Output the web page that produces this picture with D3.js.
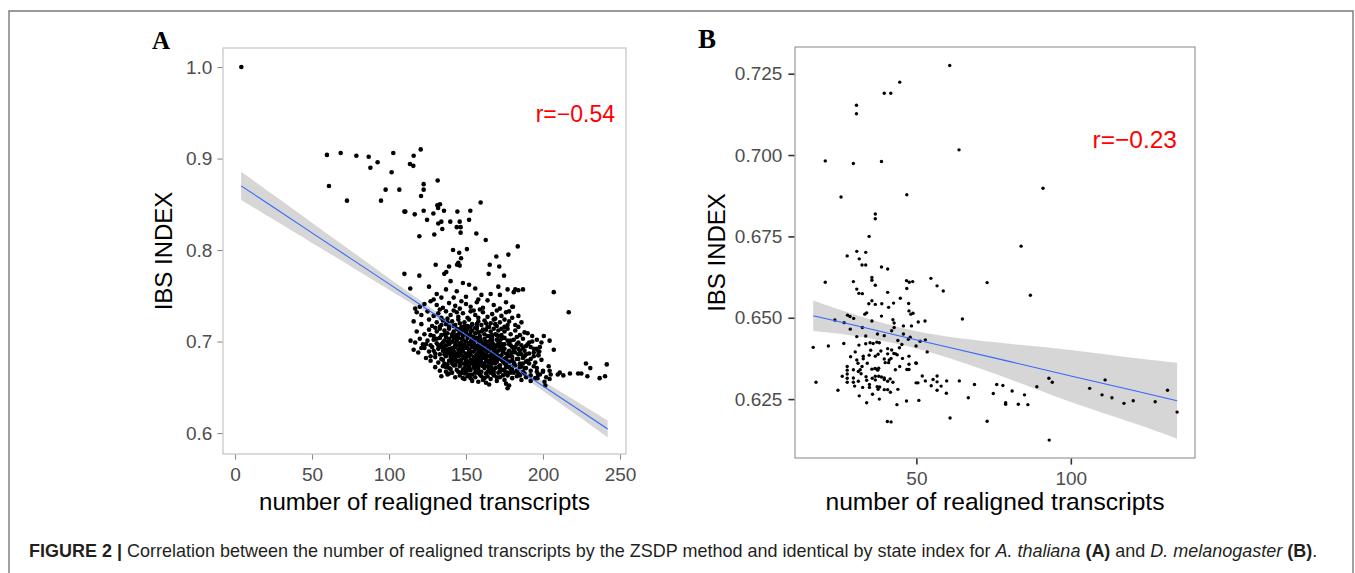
<!DOCTYPE html>
<html>
<head>
<meta charset="utf-8">
<script src="https://cdnjs.cloudflare.com/ajax/libs/d3/7.8.5/d3.min.js"></script>
<style>
  body { margin: 0; background: #fff; }
  svg { display: block; }
</style>
</head>
<body>
<svg id="figure" width="1355" height="573"></svg>
<script>
// ---- Panel A : A. thaliana (number of realigned transcripts vs IBS index) ----
const thalianaPoints = [
  [4.1,1.000],[59.7,0.904],[68.6,0.906],[78.8,0.903],[86.8,0.902],[87.9,0.890],[92.6,0.896],[101.7,0.885],
  [102.8,0.906],[113.6,0.894],[115.8,0.892],[116.0,0.903],[120.6,0.910],[61.0,0.870],[72.7,0.854],[94.8,0.854],
  [97.8,0.866],[106.7,0.866],[120.8,0.859],[122.5,0.872],[122.5,0.866],[131.6,0.876],[110.0,0.842],[110.6,0.842],
  [116.7,0.839],[122.5,0.843],[124.7,0.833],[128.8,0.840],[131.4,0.849],[133.1,0.850],[131.9,0.846],[135.7,0.843],
  [132.0,0.829],[134.0,0.831],[134.6,0.823],[139.8,0.831],[119.7,0.815],[129.4,0.817],[144.4,0.842],[144.0,0.825],
  [145.9,0.831],[146.5,0.825],[146.5,0.819],[152.8,0.843],[152.0,0.833],[159.5,0.852],[156.7,0.818],[162.8,0.811],
  [141.6,0.800],[145.6,0.797],[150.6,0.801],[169.7,0.793],[177.5,0.795],[183.6,0.804],[146.8,0.791],[130.3,0.784],
  [137.2,0.776],[139.0,0.782],[144.2,0.784],[145.9,0.783],[135.9,0.774],[145.0,0.786],[165.4,0.784],[171.6,0.782],
  [164.7,0.774],[174.7,0.772],[110.0,0.774],[119.7,0.772],[113.8,0.758],[207.0,0.754],[216.7,0.732],[200.5,0.706],
  [204.3,0.701],[207.0,0.691],[227.9,0.676],[230.7,0.671],[241.4,0.675],[240.3,0.662],[236.8,0.660],[224.9,0.665],
  [228.8,0.662],[222.8,0.665],[217.5,0.665],[213.2,0.663],[210.9,0.666],[209.6,0.664],[203.7,0.673],[204.3,0.668],
  [205.0,0.664],[202.1,0.661],[204.3,0.659],[201.0,0.656],[201.5,0.652],[200.0,0.668],[196.8,0.664],[196.4,0.660],
  [197.0,0.685],[197.6,0.689],[195.8,0.692],[181,0.754],[184,0.756],[187,0.757],[180.5,0.738],
  // cluster, top rows
  [140,0.766],[148,0.764],[152,0.762],[137,0.757],[144,0.755],[156,0.758],[160,0.751],[166,0.752],[172,0.751],
  [177,0.757],[182,0.757],[171,0.760],[126,0.760],[131,0.752],[129,0.746],[134,0.748],[142,0.748],[150,0.749],
  [158,0.746],[147,0.744],
  [123,0.741],[127,0.744],[131,0.740],[135,0.737],[139,0.742],[143,0.739],[146,0.736],[150,0.741],[153,0.738],
  [157,0.743],[161,0.737],[164,0.745],[168,0.740],[172,0.736],[176,0.743],[180,0.738],[117,0.736],[120,0.738],
  [133,0.735],[155,0.734],
  [118,0.732],[121,0.729],[125,0.733],[129,0.728],[132,0.731],[134,0.726],[137,0.733],[140,0.729],[142,0.734],
  [145,0.727],[148,0.731],[151,0.726],[153,0.733],[156,0.729],[158,0.726],[161,0.732],[164,0.727],[167,0.730],
  [170,0.734],[173,0.728],[176,0.732],[169,0.725],[184,0.728],[138,0.725],[144,0.732],[159,0.735],
  [116,0.722],[121,0.719],[126,0.724],[128,0.717],[131,0.721],[133,0.716],[135,0.723],[137,0.719],[139,0.716],
  [141,0.722],[143,0.718],[145,0.724],[147,0.716],[149,0.721],[151,0.717],[152,0.724],[154,0.719],[156,0.715],
  [158,0.722],[160,0.718],[162,0.723],[164,0.716],[166,0.720],[168,0.724],[170,0.717],[172,0.721],[175,0.716],
  [178,0.722],[182,0.718],[186,0.721],[146,0.720],[153,0.716],[163,0.720],[157,0.719],
  // cluster, dense rows
  [118,0.711],[123,0.708],[126,0.713],[129,0.706],[131,0.711],[133,0.714],[134,0.707],[136,0.712],[138,0.709],
  [139,0.714],[141,0.706],[142,0.711],[144,0.714],[145,0.708],[147,0.712],[148,0.706],[150,0.710],[151,0.714],
  [153,0.707],[154,0.712],[156,0.709],[157,0.714],[159,0.706],[160,0.711],[162,0.708],[163,0.713],[165,0.706],
  [166,0.711],[168,0.714],[169,0.708],[171,0.712],[173,0.707],[175,0.711],[177,0.714],[179,0.708],[182,0.712],
  [185,0.707],[188,0.710],[137,0.705],[149,0.713],[158,0.710],[167,0.707],
  [114,0.701],[117,0.699],[120,0.703],[122,0.697],[125,0.701],[127,0.696],[129,0.702],[131,0.698],[133,0.704],
  [134,0.697],[136,0.701],[137,0.696],[139,0.703],[140,0.699],[142,0.704],[143,0.696],[144,0.701],[146,0.698],
  [147,0.703],[148,0.696],[150,0.700],[151,0.704],[152,0.697],[154,0.702],[155,0.698],[157,0.704],[158,0.696],
  [159,0.701],[161,0.698],[162,0.703],[164,0.696],[165,0.700],[167,0.704],[168,0.697],[170,0.702],[171,0.698],
  [173,0.703],[175,0.697],[177,0.701],[179,0.696],[181,0.702],[184,0.699],[187,0.703],[190,0.697],[193,0.700],
  [196,0.702],[141,0.700],[153,0.700],[160,0.700],[166,0.699],[145,0.704],[156,0.695],
  [116,0.691],[119,0.688],[123,0.693],[126,0.689],[128,0.694],[130,0.687],[132,0.692],[133,0.686],[135,0.690],
  [136,0.694],[138,0.688],[139,0.692],[140,0.686],[142,0.690],[143,0.694],[144,0.687],[145,0.691],[147,0.685],
  [148,0.689],[149,0.693],[150,0.687],[152,0.691],[153,0.686],[154,0.694],[155,0.689],[156,0.692],[157,0.686],
  [158,0.690],[160,0.694],[161,0.687],[162,0.691],[163,0.685],[164,0.689],[166,0.693],[167,0.687],[168,0.691],
  [170,0.686],[171,0.690],[172,0.694],[174,0.688],[175,0.692],[177,0.686],[178,0.690],[180,0.694],[182,0.688],
  [184,0.692],[186,0.686],[188,0.690],[191,0.687],[194,0.692],[197,0.689],[146,0.689],[151,0.694],[159,0.688],
  [165,0.690],[169,0.688],[137,0.691],[141,0.693],[173,0.691],
  [124,0.682],[127,0.679],[130,0.683],[132,0.677],[134,0.681],[136,0.676],[137,0.684],[139,0.679],[140,0.683],
  [141,0.676],[143,0.681],[144,0.678],[145,0.684],[147,0.680],[148,0.676],[149,0.682],[151,0.678],[152,0.684],
  [153,0.680],[154,0.676],[156,0.682],[157,0.678],[158,0.684],[159,0.680],[161,0.676],[162,0.682],[163,0.678],
  [165,0.684],[166,0.680],[167,0.676],[169,0.682],[170,0.678],[172,0.684],[173,0.680],[175,0.676],[176,0.682],
  [178,0.678],[180,0.683],[181,0.677],[183,0.681],[185,0.676],[187,0.682],[189,0.678],[192,0.681],[195,0.677],
  [199,0.680],[146,0.679],[155,0.679],[160,0.681],[164,0.679],[168,0.679],[150,0.680],[142,0.679],[171,0.681],
  [130,0.672],[133,0.668],[135,0.673],[137,0.667],[139,0.671],[141,0.666],[142,0.674],[144,0.669],[146,0.673],
  [147,0.666],[149,0.671],[150,0.667],[152,0.674],[153,0.669],[155,0.672],[156,0.666],[158,0.670],[159,0.674],
  [160,0.667],[162,0.671],[163,0.665],[165,0.669],[166,0.673],[168,0.667],[169,0.671],[171,0.666],[172,0.674],
  [174,0.669],[176,0.672],[177,0.666],[179,0.670],[181,0.674],[183,0.668],[185,0.672],[187,0.667],[189,0.671],
  [192,0.668],[194,0.673],[196,0.667],[157,0.668],[161,0.673],[167,0.670],[148,0.669],[175,0.668],
  [134,0.662],[138,0.664],[143,0.661],[146,0.663],[149,0.659],[151,0.662],[154,0.657],[156,0.661],[159,0.664],
  [161,0.658],[164,0.662],[166,0.659],[168,0.663],[170,0.657],[172,0.661],[175,0.658],[177,0.663],[180,0.660],
  [183,0.662],[186,0.658],[189,0.661],[192,0.657],[195,0.660],[158,0.656],[163,0.655],[176,0.654],[177,0.649],
  [178,0.652],[165,0.653],[153,0.660],
  [198,0.694],[199,0.699],[193,0.706],[189,0.695],[191,0.676],[196,0.671],[198,0.664],[200,0.667],[188,0.665],
  [185,0.663],[181,0.666],[194,0.684],[197,0.685],[186,0.696],[190,0.709],[184,0.716],[180,0.726],[175,0.724],
  [178,0.733],
  [141,0.708],[144,0.703],[147,0.698],[150,0.693],[153,0.689],[156,0.684],[159,0.679],[162,0.674],[165,0.669],
  [168,0.664],[143,0.684],[146,0.675],[149,0.665],[152,0.672],[155,0.705],[158,0.700],[161,0.695],[164,0.706],
  [167,0.701],[170,0.695],[173,0.685],[176,0.675],[174,0.697],[171,0.672],[139,0.697],[136,0.686],[138,0.675],
  [140,0.670],[145,0.667],[151,0.669],[154,0.664],[157,0.673],[160,0.677],[163,0.683],[166,0.685],[169,0.676],
  [172,0.667],[178,0.684],[180,0.688],[182,0.674],[148,0.702],[152,0.698],[157,0.692],[162,0.697],[166,0.702],
  [170,0.707],[146,0.694],[143,0.699],[150,0.677],[155,0.683],[160,0.685],[165,0.677],[174,0.678],[178,0.672],
  [184,0.686],[187,0.693],[135,0.699],[132,0.696],[129,0.690],[127,0.684],
  // cluster, extra core points
  [131,0.703],[134,0.694],[136,0.708],[138,0.700],[140,0.690],[142,0.684],[144,0.696],[146,0.709],[148,0.684],
  [150,0.674],[152,0.688],[154,0.697],[156,0.676],[158,0.666],[160,0.690],[162,0.686],[164,0.673],[166,0.666],
  [168,0.686],[170,0.681],[172,0.699],[174,0.693],[176,0.687],[178,0.697],[180,0.679],[182,0.694],[184,0.681],
  [186,0.673],[188,0.684],[190,0.679],[192,0.694],[194,0.688],[139,0.687],[141,0.680],[143,0.674],[145,0.679],
  [147,0.693],[149,0.697],[151,0.685],[153,0.677],[155,0.694],[157,0.681],[159,0.692],[161,0.683],[163,0.692],
  [165,0.695],[167,0.683],[169,0.693],[171,0.701],[173,0.695],[175,0.681],[177,0.678],[179,0.685],[181,0.691],
  [183,0.697],[185,0.690],[187,0.676],[189,0.686],[191,0.699],[135,0.680],[137,0.672],[139,0.665],[143,0.707],
  [147,0.709],[151,0.707],[155,0.701],[159,0.703],[163,0.700],[167,0.695],[171,0.706],[175,0.704],[179,0.701],
  [183,0.705],[145,0.713],[149,0.717],[153,0.711],[157,0.716],[161,0.713],[165,0.716],[169,0.719],[173,0.714],
  [177,0.718],[142,0.717],[138,0.721],[134,0.718],[130,0.715],[127,0.707],[124,0.697],[121,0.693],[148,0.660],
  [152,0.664],[156,0.670],[160,0.662],[164,0.667],[168,0.670],[172,0.671],[176,0.665],[180,0.669],[184,0.665],
  [188,0.671],[192,0.663],[170,0.661],[174,0.663],[179,0.666],[162,0.660],[158,0.675],[154,0.679],[150,0.684],
  [146,0.686],[142,0.688]
];
// fitted line and 95% band
const thalianaFitX  = [4, 25, 50, 75, 100, 125, 150, 175, 200, 225, 242];
const thalianaFitY  = [0.8701, 0.8467, 0.8188, 0.7909, 0.7630, 0.7351, 0.7072, 0.6793, 0.6514, 0.6235, 0.6045];
const thalianaBandLo = [0.8546, 0.8333, 0.8078, 0.7823, 0.7567, 0.7308, 0.7042, 0.6757, 0.6460, 0.6158, 0.5952];
const thalianaBandHi = [0.8856, 0.8601, 0.8298, 0.7995, 0.7693, 0.7394, 0.7102, 0.6829, 0.6568, 0.6312, 0.6138];
const thalianaXTicks = [0, 50, 100, 150, 200, 250];
const thalianaYTicks = [0.6, 0.7, 0.8, 0.9, 1.0];

// ---- Panel B : D. melanogaster ----
const melanoPoints = [
  [60.8,0.7275],[44.6,0.7224],[39.6,0.7190],[41.7,0.7190],[30.6,0.7153],[30.6,0.7127],[20.5,0.6982],[29.6,0.6974],
  [38.7,0.6980],[63.8,0.7016],[91.0,0.6898],[25.6,0.6871],[46.9,0.6878],[36.7,0.6819],[36.7,0.6804],[34.7,0.6750],
  [83.9,0.6720],[27.6,0.6690],[30.7,0.6704],[33.6,0.6701],[31.5,0.6681],[32.4,0.6662],[33.6,0.6662],
  [20.5,0.6609],[29.6,0.6611],[30.7,0.6588],[31.4,0.6575],[32.5,0.6574],[38.7,0.6656],[40.7,0.6650],[35.6,0.6624],
  [35.6,0.6615],[36.7,0.6600],[40.7,0.6578],[34.6,0.6543],[35.6,0.6552],[36.7,0.6541],[38.8,0.6543],[33.3,0.6511],
  [33.9,0.6515],[38.7,0.6505],[35.6,0.6490],[27.7,0.6508],[28.5,0.6504],[29.7,0.6498],[23.6,0.6493],[26.6,0.6485],
  [28.6,0.6465],[32.5,0.6470],
  [17.5,0.6302],[16.6,0.6409],[21.5,0.6413],[26.5,0.6421],[24.6,0.6277],[30.7,0.6442],[33.6,0.6444],[31.4,0.6416],
  [33.6,0.6420],[35.0,0.6423],[36.0,0.6421],[37.2,0.6425],[38.0,0.6423],[32.8,0.6382],[34.7,0.6385],[36.7,0.6382],
  [37.6,0.6388],[40.7,0.6405],[40.7,0.6389],[42.0,0.6401],[42.7,0.6390],[43.3,0.6389],[43.8,0.6386],[42.4,0.6494],
  [42.8,0.6484],[42.8,0.6470],[45.8,0.6475],[45.8,0.6450],[45.3,0.6418],[44.5,0.6408],[47.4,0.6434],[48.0,0.6440],
  [49.9,0.6413],[47.5,0.6544],[47.6,0.6521],[48.2,0.6511],[48.9,0.6514],[50.6,0.6487],[52.8,0.6490],[52.9,0.6432],
  [47.6,0.6382],[47.6,0.6357],[47.6,0.6341],[46.9,0.6341],[49.8,0.6361],[46.8,0.6614],[47.7,0.6609],[48.8,0.6611],
  [46.9,0.6590],[54.7,0.6621],[56.7,0.6598],[58.7,0.6582],[72.9,0.6608],[86.9,0.6569],[64.9,0.6496],
  [27.6,0.6350],[27.6,0.6339],[27.6,0.6327],[27.6,0.6314],[27.6,0.6302],[29.6,0.6340],[31.2,0.6335],[29.6,0.6315],
  [29.6,0.6302],[31.2,0.6305],[30.7,0.6370],[31.1,0.6360],[31.8,0.6340],[32.1,0.6328],[32.8,0.6374],[32.4,0.6350],
  [33.7,0.6319],[33.9,0.6308],[31.5,0.6260],[33.9,0.6239],[32.6,0.6286],[34.8,0.6286],[34.8,0.6295],[35.6,0.6342],
  [36.6,0.6344],[37.2,0.6342],[37.5,0.6339],[37.8,0.6345],[35.7,0.6314],[36.7,0.6320],[36.7,0.6309],[37.8,0.6320],
  [38.7,0.6318],[39.6,0.6315],[39.6,0.6373],[39.9,0.6362],[41.0,0.6362],[41.2,0.6370],[41.8,0.6375],[37.3,0.6288],
  [37.6,0.6280],[38.1,0.6287],[39.6,0.6310],[40.7,0.6305],[41.5,0.6312],[42.4,0.6302],[39.6,0.6279],[40.7,0.6279],
  [41.6,0.6271],[40.6,0.6181],[41.8,0.6180],[43.7,0.6233],[46.8,0.6244],[50.8,0.6246],[49.9,0.6300],[50.5,0.6300],
  [51.9,0.6321],[52.9,0.6306],[54.8,0.6291],[56.7,0.6321],[56.7,0.6303],[56.7,0.6277],[59.8,0.6306],[59.7,0.6268],
  [60.9,0.6192],[63.9,0.6306],[66.8,0.6254],[68.8,0.6295],[72.9,0.6182],[74.9,0.6267],[76.0,0.6295],[78.0,0.6292],
  [78.9,0.6239],[78.9,0.6234],[81.0,0.6275],[83.0,0.6234],[85.0,0.6263],[86.1,0.6233],[89.0,0.6288],[92.9,0.6314],
  [94.0,0.6302],[93.0,0.6124],[106.1,0.6283],[110.1,0.6263],[111.1,0.6309],[113.3,0.6254],[117.2,0.6237],
  [120.2,0.6245],[127.3,0.6242],[131.3,0.6277],[134.4,0.6210],
  [37.4,0.6450],[39.6,0.6445],[42.0,0.6460],[44.0,0.6430],[38.5,0.6398],[35.2,0.6400],[34.1,0.6360],[30.2,0.6395],
  [28.7,0.6380],[26.0,0.6320],[30.0,0.6290],[44.6,0.6350],[45.5,0.6375],[43.2,0.6340],[44.0,0.6280],[35.8,0.6265],
  [38.0,0.6250],[44.8,0.6560],[42.6,0.6545],[41.0,0.6532],[48.4,0.6475],[51.2,0.6428],[53.5,0.6395],[55.4,0.6310],
  [58.0,0.6290],[50.0,0.6360]
];
const melanoFitX   = [16.6, 30, 45, 60, 80, 100, 120, 134.4];
const melanoFitY   = [0.6506, 0.6477, 0.6443, 0.6410, 0.6366, 0.6321, 0.6277, 0.6245];
const melanoBandLo = [0.6459, 0.6444, 0.6417, 0.6378, 0.6312, 0.6241, 0.6177, 0.6128];
const melanoBandHi = [0.6553, 0.6510, 0.6469, 0.6442, 0.6420, 0.6401, 0.6377, 0.6362];
const melanoXTicks = [50, 100];
const melanoYTicks = [0.625, 0.650, 0.675, 0.700, 0.725];

const svg = d3.select("#figure");
const FONT = "'Liberation Sans', Arial, Helvetica, sans-serif";

// outer frame of the figure (open at the bottom edge)
svg.append("path")
    .attr("d", "M9,573 L9,11 L1353,11 L1353,573")
    .attr("fill", "none")
    .attr("stroke", "#7a7a7a")
    .attr("stroke-width", 1.4);

// Function to draw one scatter panel with its fit
function draw_panel(p) {
    const x = d3.scaleLinear().domain(p.xDomain).range([p.left, p.right]);
    const y = d3.scaleLinear().domain(p.yDomain).range([p.bottom, p.top]);
    const g = svg.append("g");

    // panel border
    g.append("rect")
        .attr("x", p.left).attr("y", p.top)
        .attr("width", p.right - p.left).attr("height", p.bottom - p.top)
        .attr("fill", "#fff")
        .attr("stroke", p.borderColor)
        .attr("stroke-width", 1.2);

    // confidence band (below the points)
    const band = p.fitX.map((v, i) => ({ x: v, lo: p.bandLo[i], hi: p.bandHi[i], fit: p.fitY[i] }));
    g.append("path")
        .datum(band)
        .attr("fill", "#999999")
        .attr("fill-opacity", 0.4)
        .attr("d", d3.area().curve(d3.curveNatural)
            .x(d => x(d.x)).y0(d => y(d.lo)).y1(d => y(d.hi)));

    // points
    g.append("g").selectAll("circle")
        .data(p.points)
        .enter()
        .append("circle")
        .attr("cx", d => x(d[0]))
        .attr("cy", d => y(d[1]))
        .attr("r", p.radius)
        .attr("fill", "#000");

    // fitted line on top
    g.append("path")
        .datum(band)
        .attr("fill", "none")
        .attr("stroke", "#3366FF")
        .attr("stroke-width", 1.1)
        .attr("d", d3.line().x(d => x(d.x)).y(d => y(d.fit)));

    // axes
    const xAxis = g.append("g")
        .attr("transform", `translate(0,${p.bottom + 0.6})`)
        .call(d3.axisBottom(x).tickValues(p.xTicks).tickSize(p.tickLen).tickPadding(p.tickPadX)
            .tickFormat(d3.format("d")));
    const yAxis = g.append("g")
        .attr("transform", `translate(${p.left - 0.6},0)`)
        .call(d3.axisLeft(y).tickValues(p.yTicks).tickSize(p.tickLen).tickPadding(p.tickPadY)
            .tickFormat(d3.format(p.yFormat)));
    [xAxis, yAxis].forEach(a => {
        a.select(".domain").remove();
        a.selectAll(".tick line").attr("stroke", p.tickColor).attr("stroke-width", p.tickWidth);
        a.selectAll(".tick text")
            .attr("fill", "#4d4d4d")
            .style("font-family", FONT)
            .style("font-size", "19px");
    });

    // axis titles
    g.append("text")
        .attr("x", (p.left + p.right) / 2).attr("y", 510)
        .attr("text-anchor", "middle")
        .style("font-family", FONT).style("font-size", p.titleSize + "px")
        .attr("fill", "#000")
        .text("number of realigned transcripts");
    g.append("text")
        .attr("transform", `translate(${p.yTitleX},${(p.top + p.bottom) / 2}) rotate(-90)`)
        .attr("text-anchor", "middle")
        .style("font-family", FONT).style("font-size", "24px")
        .attr("fill", "#000")
        .text("IBS INDEX");

    // correlation label
    g.append("text")
        .attr("x", p.rX).attr("y", p.rY)
        .attr("text-anchor", "end")
        .style("font-family", FONT).style("font-size", p.rSize + "px")
        .attr("fill", "#ff0000")
        .text(p.rText);

    // panel letter
    g.append("text")
        .attr("x", p.letterX).attr("y", p.letterY)
        .style("font-family", "'Liberation Serif', 'Times New Roman', serif")
        .style("font-weight", "bold")
        .style("font-size", p.letterSize + "px")
        .text(p.letter);
}

draw_panel({
    points: thalianaPoints, fitX: thalianaFitX, fitY: thalianaFitY,
    bandLo: thalianaBandLo, bandHi: thalianaBandHi,
    xTicks: thalianaXTicks, yTicks: thalianaYTicks, yFormat: ".1f",
    xDomain: [-7.8, 253.9], yDomain: [0.5771, 1.0208],
    left: 223, right: 626, top: 48, bottom: 454,
    radius: 2.3, borderColor: "#c4c4c4", tickColor: "#8a8a8a", tickWidth: 1.1,
    tickLen: 5, tickPadX: 8, tickPadY: 5,
    titleSize: 24, yTitleX: 172, rX: 615, rY: 122, rSize: 23, rText: "r=\u22120.54",
    letter: "A", letterX: 152, letterY: 49, letterSize: 25
});

draw_panel({
    points: melanoPoints, fitX: melanoFitX, fitY: melanoFitY,
    bandLo: melanoBandLo, bandHi: melanoBandHi,
    xTicks: melanoXTicks, yTicks: melanoYTicks, yFormat: ".3f",
    xDomain: [10.7, 140.2], yDomain: [0.6069, 0.7332],
    left: 795, right: 1195, top: 47, bottom: 458,
    radius: 1.7, borderColor: "#9a9a9a", tickColor: "#333333", tickWidth: 1.6,
    tickLen: 6, tickPadX: 7, tickPadY: 6,
    titleSize: 24.6, yTitleX: 725, rX: 1177, rY: 148, rSize: 24.5, rText: "r=\u22120.23",
    letter: "B", letterX: 698, letterY: 48, letterSize: 27
});

// caption
const caption = svg.append("text")
    .attr("x", 29).attr("y", 557)
    .style("font-family", FONT).style("font-size", "15px")
    .attr("fill", "#231f20");
caption.append("tspan").style("font-weight", "bold").text("FIGURE 2 |");
caption.append("tspan").text(" Correlation between the number of realigned transcripts by the ZSDP method and identical by state index for ");
caption.append("tspan").style("font-style", "italic").text("A. thaliana");
caption.append("tspan").text(" ");
caption.append("tspan").style("font-weight", "bold").text("(A)");
caption.append("tspan").text(" and ");
caption.append("tspan").style("font-style", "italic").text("D. melanogaster");
caption.append("tspan").text(" ");
caption.append("tspan").style("font-weight", "bold").text("(B)");
caption.append("tspan").text(".");
// scale the caption font so it spans the same width as the printed caption
const capLen = caption.node().getComputedTextLength();
caption.style("font-size", (15 * 1289 / capLen).toFixed(2) + "px");
</script>
</body>
</html>
